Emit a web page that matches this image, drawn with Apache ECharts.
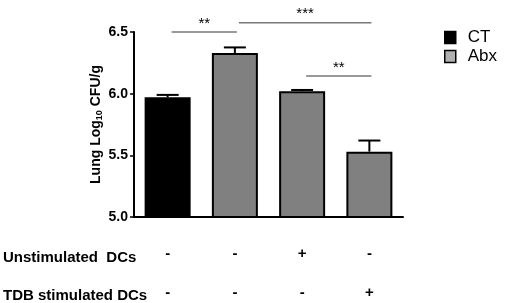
<!DOCTYPE html>
<html>
<head>
<meta charset="utf-8">
<script src="https://cdn.jsdelivr.net/npm/echarts@6/dist/echarts.min.js"></script>
<style>html,body{margin:0;padding:0;background:#fff}#c{width:510px;height:303px}</style>
</head>
<body>
<div id="c"></div>
<script>
var categories = ['g1', 'g2', 'g3', 'g4'];
var ctValues = [5.97, '-', '-', '-'];
var abxValues = ['-', 6.33, 6.02, 5.53];
var errors = [0.02, 0.045, 0.01, 0.09];
var unstimulated = ['-', '-', '+', '-'];
var tdbStimulated = ['-', '-', '-', '+'];
var rowLabels = ['Unstimulated  DCs', 'TDB stimulated DCs'];
var yTicks = [5.0, 5.5, 6.0, 6.5];
// significance: [fromIndex, toIndex, yValue, label]
var sigBrackets = [[0, 1, 6.5, '**'], [1, 3, 6.575, '***'], [2, 3, 6.144, '**']];

var FONT = '"Liberation Sans", Arial, sans-serif';
var means = categories.map(function (c, i) {
  return ctValues[i] !== '-' ? ctValues[i] : abxValues[i];
});
var errData = means.map(function (m, i) { return [i, m, m + errors[i]]; });

var chart = echarts.init(document.getElementById('c'));
chart.setOption({
  animation: false,
  backgroundColor: '#fff',
  grid: { left: 134, top: 32, right: 107, bottom: 86 },
  legend: {
    orient: 'vertical', left: 439, top: 24, itemWidth: 11, itemHeight: 12, itemGap: 2,
    icon: 'rect',
    textStyle: { fontFamily: FONT, fontSize: 17, color: '#000', padding: [0, 0, 0, 7] },
    itemStyle: { borderColor: '#000', borderWidth: 1.5 },
    data: [
      { name: 'CT', itemStyle: { color: '#000' } },
      { name: 'Abx', itemStyle: { color: '#b0b0b0' } }
    ]
  },
  xAxis: {
    type: 'category', data: categories,
    axisLine: { lineStyle: { color: '#000', width: 2 } },
    axisTick: { alignWithLabel: true, length: 4, lineStyle: { color: '#000', width: 1.5 } },
    axisLabel: {
      margin: 17,
      formatter: function (v, i) { return '{a|' + unstimulated[i] + '}\n{a|' + tdbStimulated[i] + '}'; },
      rich: { a: { fontFamily: FONT, fontWeight: 'bold', fontSize: 15, lineHeight: 39, color: '#000' } }
    }
  },
  yAxis: {
    type: 'value', min: yTicks[0], max: yTicks[yTicks.length - 1], interval: 0.5,
    name: 'Lung Log{s|10} CFU/g', nameLocation: 'middle', nameGap: 30, nameRotate: 90,
    nameMoveOverlap: false,
    nameTextStyle: {
      fontFamily: FONT, fontWeight: 'bold', fontSize: 14, color: '#000',
      rich: { s: { fontFamily: FONT, fontWeight: 'bold', fontSize: 9, color: '#000', verticalAlign: 'bottom', padding: [6, 0, 0, 0] } }
    },
    splitLine: { show: false },
    axisLine: { show: true, lineStyle: { color: '#000', width: 2 } },
    axisTick: { show: true, length: 4, lineStyle: { color: '#000', width: 1.5 } },
    axisLabel: {
      margin: 6, fontFamily: FONT, fontWeight: 'bold', fontSize: 14, color: '#000',
      formatter: function (v) { return v.toFixed(1); }
    }
  },
  series: [
    {
      name: 'CT', type: 'bar', data: ctValues, barWidth: 46, barGap: '-100%',
      itemStyle: { color: '#000', borderColor: '#000', borderWidth: 2 }
    },
    {
      name: 'Abx', type: 'bar', data: abxValues, barWidth: 46, barGap: '-100%',
      itemStyle: { color: '#808080', borderColor: '#000', borderWidth: 2 }
    },
    {
      type: 'custom', data: errData, z: 5,
      renderItem: function (params, api) {
        var top = api.coord([api.value(0), api.value(2)]);
        var bot = api.coord([api.value(0), api.value(1)]);
        var st = { stroke: '#000', lineWidth: 2 };
        return { type: 'group', children: [
          { type: 'line', shape: { x1: bot[0], y1: bot[1], x2: top[0], y2: top[1] }, style: st },
          { type: 'line', shape: { x1: top[0] - 11, y1: top[1], x2: top[0] + 11, y2: top[1] }, style: st }
        ] };
      }
    },
    {
      type: 'custom', data: sigBrackets, clip: false, z: 5,
      renderItem: function (params, api) {
        var a = api.coord([api.value(0), api.value(2)]);
        var b = api.coord([api.value(1), api.value(2)]);
        var lbl = sigBrackets[params.dataIndex][3];
        return { type: 'group', children: [
          { type: 'line', shape: { x1: a[0] + 4, y1: a[1], x2: b[0] + 2, y2: b[1] }, style: { stroke: '#777', lineWidth: 1.5 } },
          { type: 'text', x: (a[0] + b[0]) / 2 + 3, y: a[1] - 1,
            style: { text: lbl, fill: '#000', font: '15px ' + FONT, align: 'center', verticalAlign: 'bottom' } }
        ] };
      }
    }
  ],
  graphic: [
    { type: 'text', left: 3, top: 250, style: { text: rowLabels[0], font: 'bold 15px ' + FONT, fill: '#000' } },
    { type: 'text', left: 3, top: 288, style: { text: rowLabels[1], font: 'bold 15px ' + FONT, fill: '#000' } }
  ]
});
</script>
</body>
</html>
